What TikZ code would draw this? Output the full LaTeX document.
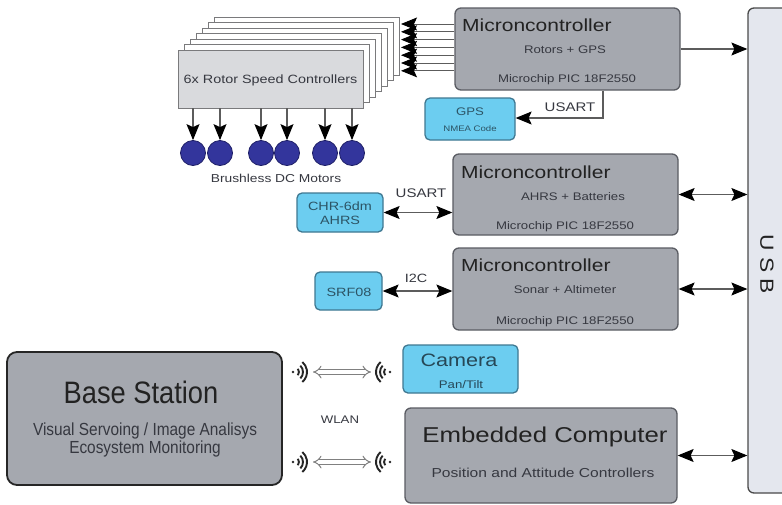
\documentclass[tikz,border=0pt]{standalone}
\usepackage{fontspec}
\setmainfont{Liberation Sans}[FakeStretch=1.2]
\newfontfamily\narrowfont{Liberation Sans}[FakeStretch=0.88]
\usetikzlibrary{arrows.meta,calc}
\definecolor{mcfill}{HTML}{A5A8AF}
\definecolor{mcdraw}{HTML}{5A5C63}
\definecolor{bluefill}{HTML}{6CCDF0}
\definecolor{bluedraw}{HTML}{3F7891}
\definecolor{stackfill}{HTML}{D9DADD}
\definecolor{stackdraw}{HTML}{7A7A7C}
\definecolor{motorfill}{HTML}{33359C}
\definecolor{motordraw}{HTML}{1E1F66}
\definecolor{usbfill}{HTML}{E4E7EE}
\definecolor{usbdraw}{HTML}{4A4A4A}
\definecolor{linegray}{HTML}{5C5C5C}
\definecolor{txtdark}{HTML}{222222}
\definecolor{txtmid}{HTML}{363840}
\newcommand\fsz[1]{\fontsize{#1}{#1}\selectfont}
\tikzset{
  mcbox/.style={draw=mcdraw, fill=mcfill, line width=1.3pt, rounded corners=6pt, inner sep=0pt},
  bluebox/.style={draw=bluedraw, fill=bluefill, line width=1.3pt, rounded corners=5pt, inner sep=0pt},
  stackbox/.style={draw=stackdraw, fill=stackfill, line width=1pt},
  backbox/.style={draw=stackdraw, fill=white, line width=1pt},
  motor/.style={circle, draw=motordraw, fill=motorfill, line width=0.8pt, minimum size=25pt, inner sep=0pt},
  basebox/.style={draw=black!85, fill=mcfill, line width=1.8pt, rounded corners=10pt, inner sep=0pt},
  usbbox/.style={draw=usbdraw, fill=usbfill, line width=1.3pt, rounded corners=6pt, inner sep=0pt},
  txt/.style={inner sep=0pt, text=txtmid},
  title/.style={inner sep=0pt, text=txtdark},
  conn/.style={draw=linegray, line width=1.1pt},
  bigtip/.tip={Stealth[length=16pt,width=13pt,inset=3pt,color=black]},
  tipR/.style={-bigtip},
  tipLR/.style={bigtip-bigtip},
  hollow/.style={draw=black!50, double=white, double distance=3.4pt, line width=1pt, {Implies[length=9pt]}-{Implies[length=9pt]}},
  wave/.style={line width=1.9pt, draw=black!85},
  wifiR/.pic={
    \fill[black!85] (-1,0) circle (1.4pt);
    \draw[wave] (-40:5pt) arc (-40:40:5pt);
    \draw[wave] (-45:9pt) arc (-45:45:9pt);
    \draw[wave] (-50:13pt) arc (-50:50:13pt);
  },
  wifiL/.pic={
    \fill[black!85] (1,0) circle (1.4pt);
    \draw[wave] (140:5pt) arc (140:220:5pt);
    \draw[wave] (135:9pt) arc (135:225:9pt);
    \draw[wave] (130:13pt) arc (130:230:13pt);
  }
}
\begin{document}
\begin{tikzpicture}[x=1pt,y=-1pt]
\useasboundingbox[fill=white] (0,0) rectangle (782,504);

% USB bar
\node[usbbox, minimum width=56pt, minimum height=485pt] (usb) at (776,250.5) {};
\node[title, rotate=-90, font=\fsz{19}] (usbt) at (767,264) {U\hspace{6pt}S\hspace{6pt}B};

% rotor speed controller stack
\foreach \k in {6,5,...,1}{
  \draw[backbox] ({178+6*\k},{50-5.5*\k}) rectangle ({363+6*\k},{108-5.5*\k});
}
\node[stackbox, minimum width=185pt, minimum height=58pt, inner sep=0pt] (rsc) at (270.5,79) {};
\node[txt, font=\fsz{12}] (rsct) at (270.5,80) {6x Rotor Speed Controllers};

% motors
\foreach \i/\x in {1/193,2/220,3/261,4/287,5/325,6/352}{
  \node[motor] (m\i) at (\x,153) {};
  \draw[conn, tipR] (\x,108) -- (m\i.north);
}
\node[txt, font=\fsz{11.5}] (bdc) at (276,178) {Brushless DC Motors};

% microcontroller 1
\node[mcbox, minimum width=225pt, minimum height=82pt] (mc1) at (567.5,49) {};
\node[title, anchor=west, font=\fsz{17.5}] (mc1a) at (462,25) {Microncontroller};
\node[txt, font=\fsz{11}] (mc1b) at (565,50) {Rotors + GPS};
\node[txt, font=\fsz{11}] (mc1c) at (567,80) {Microchip PIC 18F2550};

% arrows to stack
\foreach \i in {0,...,6}{
  \coordinate (sa\i) at (401,{24+7.8*\i});
  \draw[conn, line width=0.9pt, tipR] (mc1.west |- sa\i) -- (sa\i);
}

% GPS
\node[bluebox, minimum width=90pt, minimum height=42pt] (gps) at (470,119) {};
\node[txt, font=\fsz{11}, text=bluedraw!70!black] (gpsa) at (470,112) {GPS};
\node[txt, font=\fsz{8}, text=bluedraw!70!black] (gpsb) at (470,129) {NMEA Code};
\coordinate (u1) at (603,118);
\draw[conn, tipR] (mc1.south -| u1) -- (u1) -- (gps.east |- u1);
\node[txt, font=\fsz{12.5}] (usart1) at (570,107) {USART};

\draw[conn, tipR] (mc1.east) -- (mc1.east -| usb.west);

% microcontroller 2
\node[mcbox, minimum width=225pt, minimum height=81pt] (mc2) at (565.5,194.5) {};
\node[title, anchor=west, font=\fsz{17.5}] (mc2a) at (461,172) {Microncontroller};
\node[txt, font=\fsz{11}] (mc2b) at (573,197) {AHRS + Batteries};
\node[txt, font=\fsz{11}] (mc2c) at (565,227) {Microchip PIC 18F2550};
\draw[conn, tipLR] (mc2.east) -- (mc2.east -| usb.west);

% CHR-6dm
\node[bluebox, minimum width=86pt, minimum height=39pt] (chr) at (340,212.5) {};
\node[txt, font=\fsz{12}, text=bluedraw!70!black, align=center] (chrt) at (340,213) {CHR-6dm\\[2pt]AHRS};
\draw[conn, tipLR] (chr.east) -- (chr.east -| mc2.west);
\node[txt, font=\fsz{12.5}] (usart2) at (421,193) {USART};

% microcontroller 3
\node[mcbox, minimum width=225pt, minimum height=82pt] (mc3) at (565.5,289) {};
\node[title, anchor=west, font=\fsz{17.5}] (mc3a) at (461,265) {Microncontroller};
\node[txt, font=\fsz{11}] (mc3b) at (565,290) {Sonar + Altimeter};
\node[txt, font=\fsz{11}] (mc3c) at (565,322) {Microchip PIC 18F2550};
\draw[conn, tipLR] (mc3.east) -- (mc3.east -| usb.west);

% SRF08
\node[bluebox, minimum width=67pt, minimum height=38pt] (srf) at (348.5,291) {};
\node[txt, font=\fsz{12}, text=bluedraw!70!black] (srft) at (349,292) {SRF08};
\draw[conn, tipLR] (srf.east) -- (srf.east -| mc3.west);
\node[txt, font=\fsz{12}] (i2c) at (416,278) {I2C};

% Base station
\node[basebox, minimum width=275pt, minimum height=133pt] (base) at (144.5,418.5) {};
\node[title, font=\narrowfont\fsz{31}] (basea) at (141,392) {Base Station};
\node[txt, font=\narrowfont\fsz{17.5}, align=center] (baseb) at (145,440) {Visual Servoing / Image Analisys\\[1pt]Ecosystem Monitoring};

% Camera
\node[bluebox, minimum width=115pt, minimum height=48pt] (cam) at (460.5,369) {};
\node[txt, font=\fsz{18}, text=bluedraw!60!black] (cama) at (459,360) {Camera};
\node[txt, font=\fsz{11}, text=bluedraw!60!black] (camb) at (461,385) {Pan/Tilt};

% Embedded computer
\node[mcbox, minimum width=272pt, minimum height=95pt] (emb) at (541,455.5) {};
\node[title, font=\fsz{21.5}] (emba) at (545,437) {Embedded Computer};
\node[txt, font=\fsz{13}] (embb) at (543,473) {Position and Attitude Controllers};
\draw[conn, tipLR] (emb.east) -- (emb.east -| usb.west);

% WLAN links
\pic at (294,372) {wifiR};
\pic at (389,372) {wifiL};
\coordinate (wa1) at (313,372);
\coordinate (wb1) at (371,372);
\draw[hollow] (wa1) -- (wb1);
\pic at (294,462) {wifiR};
\pic at (389,462) {wifiL};
\coordinate (wa2) at (313,462);
\coordinate (wb2) at (371,462);
\draw[hollow] (wa2) -- (wb2);
\node[txt, font=\fsz{11}] (wlan) at (340,420) {WLAN};
\end{tikzpicture}
\end{document}
